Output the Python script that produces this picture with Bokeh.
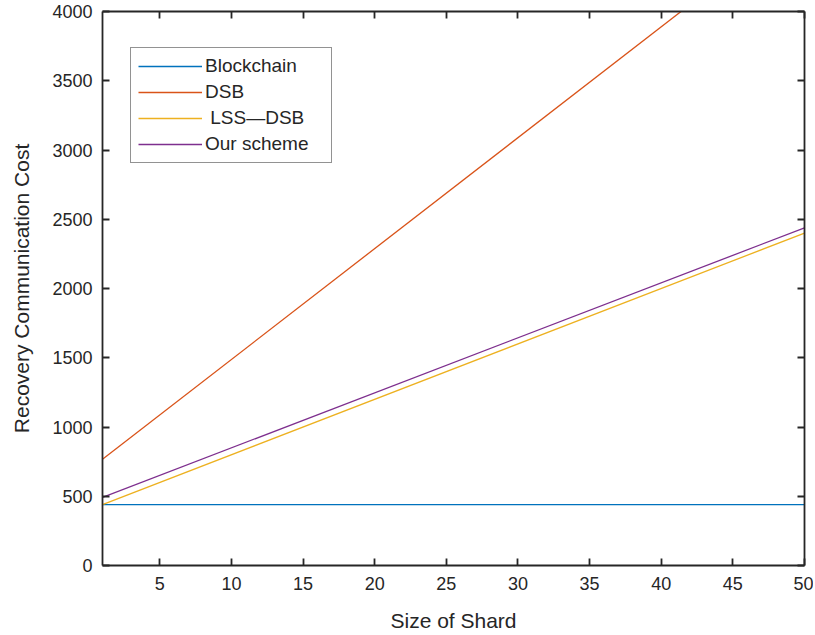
from bokeh.plotting import figure
from bokeh.models import LinearAxis, Range1d, FixedTicker, Legend, LegendItem
from bokeh.embed import file_html
from bokeh.resources import INLINE

# Data
shard_size = [1, 50]
blockchain = [440, 440]
dsb = [767, 4690]
lss_dsb = [440, 2400]
our_scheme = [492, 2438]

x_ticks = [5, 10, 15, 20, 25, 30, 35, 40, 45, 50]
y_ticks = [0, 500, 1000, 1500, 2000, 2500, 3000, 3500, 4000]

FONT = "Liberation Sans"
AX = "#262626"

p = figure(width=813, height=634, output_backend="svg", toolbar_location=None,
           x_range=Range1d(1, 50), y_range=Range1d(0, 4000),
           min_border_left=102, min_border_top=11, min_border_right=9, min_border_bottom=68)
p.grid.visible = False
p.outline_line_color = None

r1 = p.line(shard_size, blockchain, line_color="#0072BD", line_width=1.3)
r2 = p.line(shard_size, dsb, line_color="#D95319", line_width=1.3)
r3 = p.line(shard_size, lss_dsb, line_color="#EDB120", line_width=1.3)
r4 = p.line(shard_size, our_scheme, line_color="#7E2F8E", line_width=1.3)

def style(ax, labels=True):
    ax.axis_line_color = AX
    ax.axis_line_width = 1.8
    ax.major_tick_line_color = AX
    ax.major_tick_line_width = 1.8
    ax.major_tick_in = 7
    ax.major_tick_out = 0
    ax.minor_tick_line_color = None
    ax.major_label_text_font = FONT
    ax.major_label_text_font_size = "18px"
    ax.major_label_text_color = AX
    ax.axis_label_text_font = FONT
    ax.axis_label_text_font_size = "21px"
    ax.axis_label_text_font_style = "normal"
    ax.axis_label_text_color = AX
    if not labels:
        ax.major_label_text_font_size = "0px"
        ax.major_label_text_color = None

p.xaxis.ticker = FixedTicker(ticks=x_ticks)
p.yaxis.ticker = FixedTicker(ticks=y_ticks)
p.xaxis.axis_label = "Size of Shard"
p.yaxis.axis_label = "Recovery Communication Cost"
style(p.xaxis[0])
style(p.yaxis[0])
p.xaxis.major_label_standoff = 11
p.yaxis.major_label_standoff = 10
p.xaxis.axis_label_standoff = 16
p.yaxis.axis_label_standoff = 16

top = LinearAxis(ticker=FixedTicker(ticks=x_ticks))
style(top, labels=False)
p.add_layout(top, "above")
right = LinearAxis(ticker=FixedTicker(ticks=y_ticks))
style(right, labels=False)
p.add_layout(right, "right")

legend = Legend(items=[
    LegendItem(label="Blockchain", renderers=[r1]),
    LegendItem(label="DSB", renderers=[r2]),
    LegendItem(label=" LSS\u2014DSB", renderers=[r3]),
    LegendItem(label="Our scheme", renderers=[r4]),
])
legend.label_text_font = FONT
legend.label_text_font_size = "19px"
legend.label_text_color = AX
legend.glyph_width = 64
legend.glyph_height = 20
legend.label_height = 20
legend.label_width = 119
legend.label_standoff = 3
legend.spacing = 4
legend.padding = 7
legend.margin = 0
legend.border_line_color = "#262626"
legend.border_line_width = 1
legend.background_fill_color = "white"
legend.background_fill_alpha = 1
legend.location = (28, 402)
p.add_layout(legend, "center")

open("out.html", "w").write(file_html(p, INLINE))
